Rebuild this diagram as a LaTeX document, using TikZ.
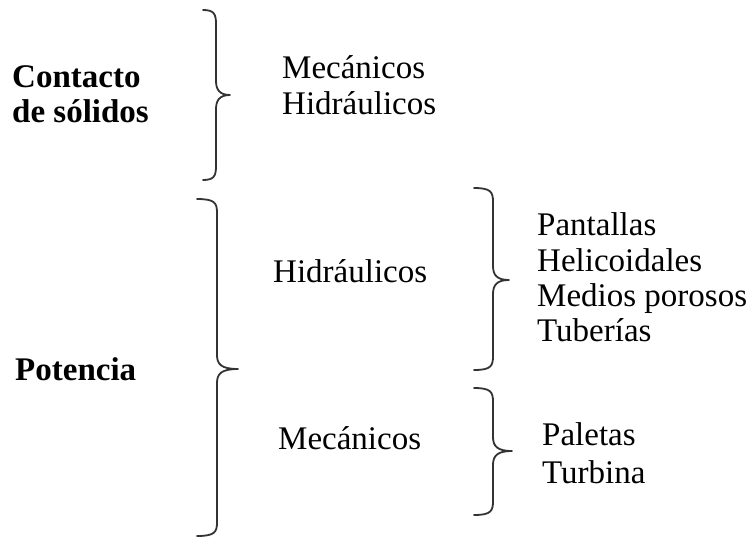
\documentclass[tikz,border=0pt]{standalone}
\usepackage{fontspec}
\setmainfont{Liberation Serif}
\begin{document}
\begin{tikzpicture}[x=1pt,y=-1pt,
  lbl/.style={anchor=base west,inner sep=0pt,font=\fontsize{33}{36}\selectfont},
  blbl/.style={lbl,font=\fontsize{33}{36}\selectfont\bfseries},
  bracestyle/.style={line width=1.8pt,draw=black!80,line cap=round,line join=round}]
\useasboundingbox (0,0) rectangle (754,538);
% text
\node[blbl] (contacto) at (12,87) {Contacto};
\node[blbl] (solidos) at (12,122) {de sólidos};
\node[blbl] (potencia) at (15,380) {Potencia};
\node[lbl] (mec1) at (282,78) {Mecánicos};
\node[lbl] (hid1) at (282,114) {Hidráulicos};
\node[lbl] (hid2) at (273,282) {Hidráulicos};
\node[lbl] (mec2) at (278,449) {Mecánicos};
\node[lbl] (pan) at (537,235) {Pantallas};
\node[lbl] (hel) at (537,271) {Helicoidales};
\node[lbl] (med) at (537,306) {Medios porosos};
\node[lbl] (tub) at (537,341) {Tuberías};
\node[lbl] (pal) at (542,445) {Paletas};
\node[lbl] (tur) at (542,483) {Turbina};
% braces: tip x, spine x, point x, top y, mid y, bottom y
\newcommand\mybrace[6]{%
  \draw[bracestyle] (#1,#4) .. controls ({#2-2},#4) and (#2,{#4+4}) .. (#2,{#4+14})
    -- (#2,{#5-14}) .. controls (#2,{#5-5}) and ({#2+4},#5) .. (#3,#5)
    .. controls ({#2+4},#5) and (#2,{#5+5}) .. (#2,{#5+14})
    -- (#2,{#6-14}) .. controls (#2,{#6-4}) and ({#2-2},#6) .. (#1,#6);}
\mybrace{203}{216}{230}{10}{95}{180}
\mybrace{197}{217}{238}{199}{369}{536}
\mybrace{474}{493}{509}{188}{280}{370}
\mybrace{474}{493}{512}{388}{451}{515}
\end{tikzpicture}
\end{document}
